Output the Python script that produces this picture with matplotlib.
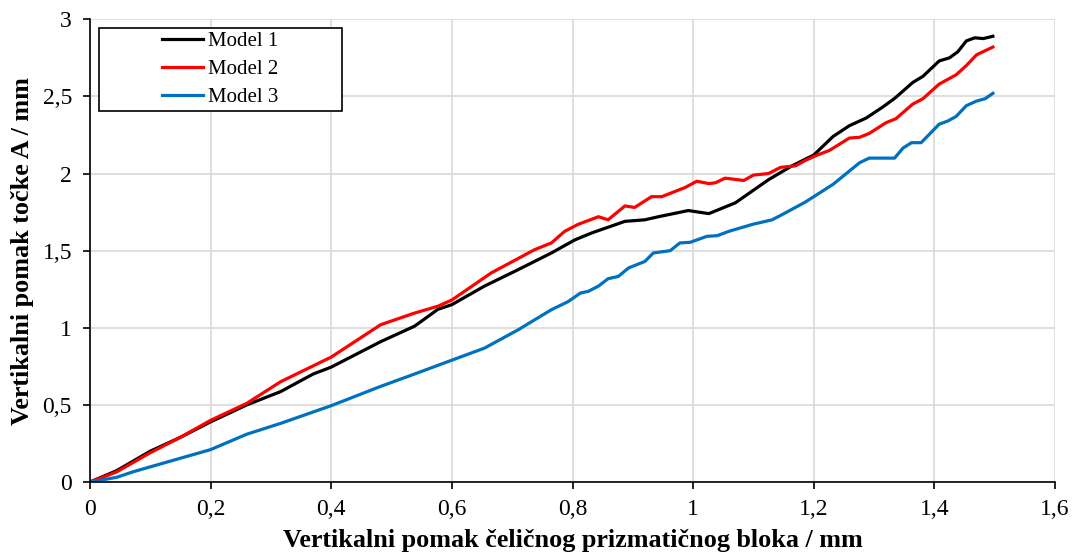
import matplotlib.pyplot as plt
from matplotlib.patches import Rectangle
from matplotlib.ticker import FuncFormatter

# Data
x1 = [0, 0.044, 0.1, 0.15, 0.2, 0.26, 0.316, 0.37, 0.4, 0.482, 0.538, 0.577, 0.6,
      0.654, 0.71, 0.765, 0.804, 0.832, 0.887, 0.92, 0.9425, 0.992, 1.026, 1.07,
      1.125, 1.164, 1.2, 1.232, 1.259, 1.287, 1.314, 1.335, 1.364, 1.381, 1.408,
      1.425, 1.439, 1.453, 1.467, 1.481, 1.497]
y1 = [0, 0.073, 0.2, 0.29, 0.39, 0.5, 0.586, 0.7, 0.745, 0.91, 1.01, 1.12, 1.15,
      1.27, 1.377, 1.485, 1.57, 1.615, 1.69, 1.70, 1.72, 1.76, 1.74, 1.81,
      1.96, 2.05, 2.12, 2.24, 2.31, 2.36, 2.43, 2.49, 2.59, 2.63, 2.73,
      2.75, 2.79, 2.86, 2.88, 2.875, 2.89]

x2 = [0, 0.044, 0.1, 0.15, 0.2, 0.26, 0.316, 0.4, 0.482, 0.538, 0.577, 0.6, 0.665,
      0.737, 0.765, 0.787, 0.809, 0.843, 0.859, 0.887, 0.903, 0.931, 0.948, 0.987,
      1.006, 1.026, 1.037, 1.053, 1.084, 1.1, 1.125, 1.145, 1.17, 1.186, 1.206,
      1.226, 1.259, 1.276, 1.292, 1.32, 1.336, 1.364, 1.381, 1.408, 1.436, 1.453,
      1.47, 1.497]
y2 = [0, 0.065, 0.19, 0.29, 0.40, 0.51, 0.65, 0.81, 1.02, 1.095, 1.14, 1.18, 1.355,
      1.506, 1.55, 1.625, 1.67, 1.72, 1.70, 1.79, 1.78, 1.85, 1.85, 1.91,
      1.95, 1.935, 1.94, 1.97, 1.955, 1.99, 2.0, 2.04, 2.05, 2.085, 2.12,
      2.15, 2.23, 2.235, 2.26, 2.33, 2.355, 2.45, 2.485, 2.58, 2.64, 2.70,
      2.77, 2.82]

x3 = [0, 0.044, 0.072, 0.2, 0.26, 0.316, 0.4, 0.482, 0.538, 0.6, 0.654, 0.71,
      0.765, 0.793, 0.813, 0.826, 0.843, 0.859, 0.876, 0.893, 0.92, 0.934, 0.962,
      0.978, 0.995, 1.023, 1.04, 1.059, 1.098, 1.131, 1.153, 1.186, 1.21, 1.232,
      1.254, 1.276, 1.292, 1.334, 1.348, 1.362, 1.378, 1.408, 1.422, 1.436, 1.453,
      1.47, 1.484, 1.497]
y3 = [0, 0.03, 0.067, 0.21, 0.31, 0.38, 0.495, 0.62, 0.70, 0.79, 0.868, 0.987,
      1.117, 1.17, 1.225, 1.236, 1.27, 1.318, 1.333, 1.388, 1.43, 1.485, 1.50,
      1.55, 1.554, 1.593, 1.597, 1.625, 1.67, 1.70, 1.745, 1.815, 1.875, 1.93,
      2.0, 2.07, 2.10, 2.10, 2.165, 2.20, 2.20, 2.32, 2.34, 2.37, 2.44,
      2.47, 2.485, 2.52]

labels = ['Model 1', 'Model 2', 'Model 3']
colors = ['#000000', '#ff0000', '#0070c0']

plt.rcParams['font.family'] = ['Liberation Serif', 'DejaVu Serif']

W, H = 1075, 555
fig = plt.figure(figsize=(W / 100, H / 100), dpi=100)
ax = fig.add_axes([90 / W, 1 - 482 / H, 965 / W, 462.7 / H])

for xs, ys, lab, c in zip([x1, x2, x3], [y1, y2, y3], labels, colors):
    ax.plot(xs, ys, color=c, lw=2.3, label=lab, solid_joinstyle='round')

ax.set_xlim(0, 1.6)
ax.set_ylim(0, 3)
ax.set_xticks([0, 0.2, 0.4, 0.6, 0.8, 1.0, 1.2, 1.4, 1.6])
ax.set_yticks([0, 0.5, 1, 1.5, 2, 2.5, 3])

fmt = FuncFormatter(lambda v, p: ('%g' % round(v, 2)).replace('.', ','))
ax.xaxis.set_major_formatter(fmt)
ax.yaxis.set_major_formatter(fmt)

ax.grid(True, color='#d9d9d9', lw=1.2)
ax.set_axisbelow(True)
for s in ['top', 'right']:
    ax.spines[s].set_visible(False)
for s in ['left', 'bottom']:
    ax.spines[s].set_linewidth(1.2)
ax.tick_params(direction='out', length=5, width=1.2, labelsize=17)
ax.tick_params(axis='x', pad=7)
ax.tick_params(axis='y', pad=8)

ax.set_xlabel('Vertikalni pomak čeličnog prizmatičnog bloka / mm',
              fontsize=18.8, fontweight='bold', labelpad=7)
ax.set_ylabel('Vertikalni pomak točke A / mm',
              fontsize=18.8, fontweight='bold', labelpad=6)

# legend box (fixed size like the original)
box = Rectangle((99 / W, 1 - 111 / H), 243 / W, 83 / H, transform=fig.transFigure,
                facecolor='white', edgecolor='black', lw=1.2, zorder=4,
                clip_on=False)
ax.add_patch(box)
leg = ax.legend(loc='center', bbox_to_anchor=(220.5 / W, 1 - 69.5 / H),
                bbox_transform=fig.transFigure, fontsize=15, frameon=False,
                handlelength=1.95, handletextpad=0.25, labelspacing=0.4,
                borderpad=0, borderaxespad=0)
leg.set_zorder(6)

fig.savefig('out.png', dpi=100)
